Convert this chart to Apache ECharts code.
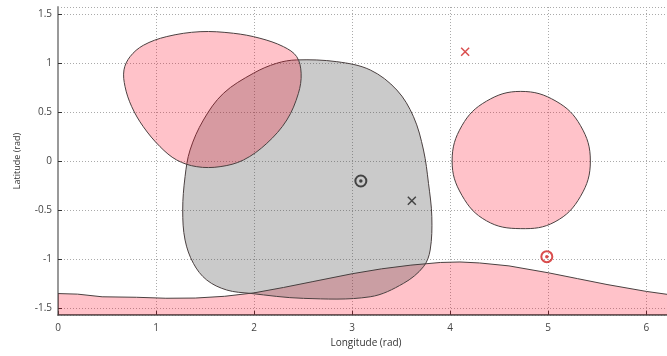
<!DOCTYPE html>
<html>
<head>
<meta charset="utf-8">
<script src="https://cdn.jsdelivr.net/npm/echarts@6/dist/echarts.min.js"></script>
<style>html,body{margin:0;padding:0;background:#fff}#c{width:667px;height:356px}</style>
</head>
<body>
<div id="c"></div>
<script>
// Axis extents (rad)
const lonRange = [0, 6.2832];
const latRange = [-1.5708, 1.5708];
const xTitle = 'Longitude (rad)';
const yTitle = 'Latitude (rad)';

// Grey region boundary [lon, lat]
const greyRegion = [
  [2.435, 1.031], [2.844, 1.013], [3.184, 0.929], [3.456, 0.724], [3.626, 0.452],
  [3.728, 0.112], [3.779, -0.228], [3.813, -0.568], [3.796, -0.908], [3.728, -1.078],
  [3.524, -1.248], [3.184, -1.385], [2.503, -1.401], [1.959, -1.35], [1.721, -1.316],
  [1.517, -1.214], [1.381, -1.044], [1.296, -0.806], [1.272, -0.5], [1.296, -0.16],
  [1.347, 0.112], [1.483, 0.418], [1.687, 0.69], [1.993, 0.895], [2.231, 0.997]
];
// Pink top-left region
const pinkBlob = [
  [1.449, 1.319], [1.789, 1.303], [2.06, 1.252], [2.3, 1.166], [2.435, 1.064],
  [2.48, 0.895], [2.452, 0.69], [2.334, 0.418], [2.13, 0.18], [1.891, 0.01],
  [1.653, -0.058], [1.415, -0.058], [1.211, 0.01], [1.041, 0.146], [0.87, 0.35],
  [0.752, 0.554], [0.684, 0.758], [0.673, 0.929], [0.735, 1.064], [0.87, 1.18],
  [1.109, 1.269]
];
// Pink circular region on the right
const pinkCircle = [
  [4.72, 0.71], [5.08, 0.61], [5.33, 0.36], [5.43, 0.0], [5.33, -0.36], [5.07, -0.62],
  [4.72, -0.69], [4.37, -0.61], [4.12, -0.35], [4.02, 0.0], [4.12, 0.36], [4.37, 0.61]
];
// Pink band along the bottom
const pinkBand = [
  [0, -1.5708], [0, -1.352], [0.2, -1.358], [0.45, -1.385], [0.8, -1.39], [1.1, -1.4],
  [1.4, -1.398], [1.7, -1.38], [2.0, -1.345], [2.3, -1.29], [2.6, -1.23], [3.0, -1.15],
  [3.3, -1.1], [3.6, -1.062], [3.9, -1.035], [4.1, -1.03], [4.3, -1.04], [4.6, -1.07],
  [5.0, -1.14], [5.3, -1.2], [5.6, -1.26], [6.0, -1.33], [6.2832, -1.37], [6.2832, -1.5708]
];
// Markers
const blackRing = [[3.089, -0.204]];
const blackCross = [[3.609, -0.405]];
const redCross = [[4.153, 1.115]];
const redRing = [[4.986, -0.976]];

const PINK = 'rgba(255,0,30,0.24)';
const GREY = 'rgba(60,60,60,0.27)';
const EDGE = '#4a4040';

function polySeries(pts, fill, smooth) {
  return {
    type: 'custom',
    clip: true,
    data: pts,
    encode: { x: 0, y: 1 },
    silent: true,
    renderItem: function (params, api) {
      if (params.dataIndex !== 0) return;
      const points = pts.map(function (p) { return api.coord(p); });
      return {
        type: 'polygon',
        shape: { points: points, smooth: smooth },
        style: { fill: fill, stroke: EDGE, lineWidth: 1 }
      };
    }
  };
}

const cross = 'path://M0,0L10,10M10,0L0,10';

const chart = echarts.init(document.getElementById('c'));
chart.setOption({
  animation: false,
  grid: { left: 58, right: -7, top: 7, bottom: 41, outerBoundsMode: 'none', containLabel: false },
  xAxis: {
    type: 'value', min: lonRange[0], max: lonRange[1],
    name: xTitle, nameLocation: 'middle', nameGap: 22,
    nameTextStyle: { fontSize: 10, color: '#333', fontFamily: 'Open Sans' },
    axisLabel: { showMaxLabel: false, fontSize: 10, color: '#444', margin: 8, fontFamily: 'Open Sans' },
    axisLine: { onZero: false, lineStyle: { color: '#555', width: 1.5 } },
    axisTick: { inside: true, length: 4, lineStyle: { color: '#333' } },
    splitLine: { show: true, lineStyle: { type: [1, 2], color: '#aaa', width: 1 } }
  },
  yAxis: {
    type: 'value', min: latRange[0], max: latRange[1],
    name: yTitle, nameLocation: 'middle', nameGap: 36,
    nameTextStyle: { fontSize: 9, color: '#333', fontFamily: 'Open Sans' },
    axisLabel: { showMinLabel: false, showMaxLabel: false, fontSize: 10, color: '#444', margin: 6, fontFamily: 'Open Sans' },
    axisLine: { show: true, onZero: false, lineStyle: { color: '#999', width: 2 } },
    axisTick: { show: true, inside: true, length: 4, lineStyle: { color: '#333' } },
    splitLine: { show: true, lineStyle: { type: [1, 2], color: '#aaa', width: 1 } }
  },
  series: [
    polySeries(pinkBand, PINK, 0),
    polySeries(greyRegion, GREY, 0.35),
    polySeries(pinkBlob, PINK, 0.35),
    polySeries(pinkCircle, PINK, 0.4),
    { type: 'scatter', data: blackRing, symbol: 'circle', symbolSize: 11,
      itemStyle: { color: 'rgba(0,0,0,0)', borderColor: '#222', borderWidth: 2 } },
    { type: 'scatter', data: blackRing, symbol: 'circle', symbolSize: 3.5, itemStyle: { color: '#222' } },
    { type: 'scatter', data: redRing, symbol: 'circle', symbolSize: 11,
      itemStyle: { color: 'rgba(0,0,0,0)', borderColor: '#d02020', borderWidth: 2 } },
    { type: 'scatter', data: redRing, symbol: 'circle', symbolSize: 3.5, itemStyle: { color: '#d02020' } },
    { type: 'scatter', data: blackCross, symbol: cross, symbolSize: 8,
      itemStyle: { color: 'none', borderColor: '#222', borderWidth: 1.5 } },
    { type: 'scatter', data: redCross, symbol: cross, symbolSize: 8,
      itemStyle: { color: 'none', borderColor: '#d02020', borderWidth: 1.5 } }
  ]
});
</script>
</body>
</html>
